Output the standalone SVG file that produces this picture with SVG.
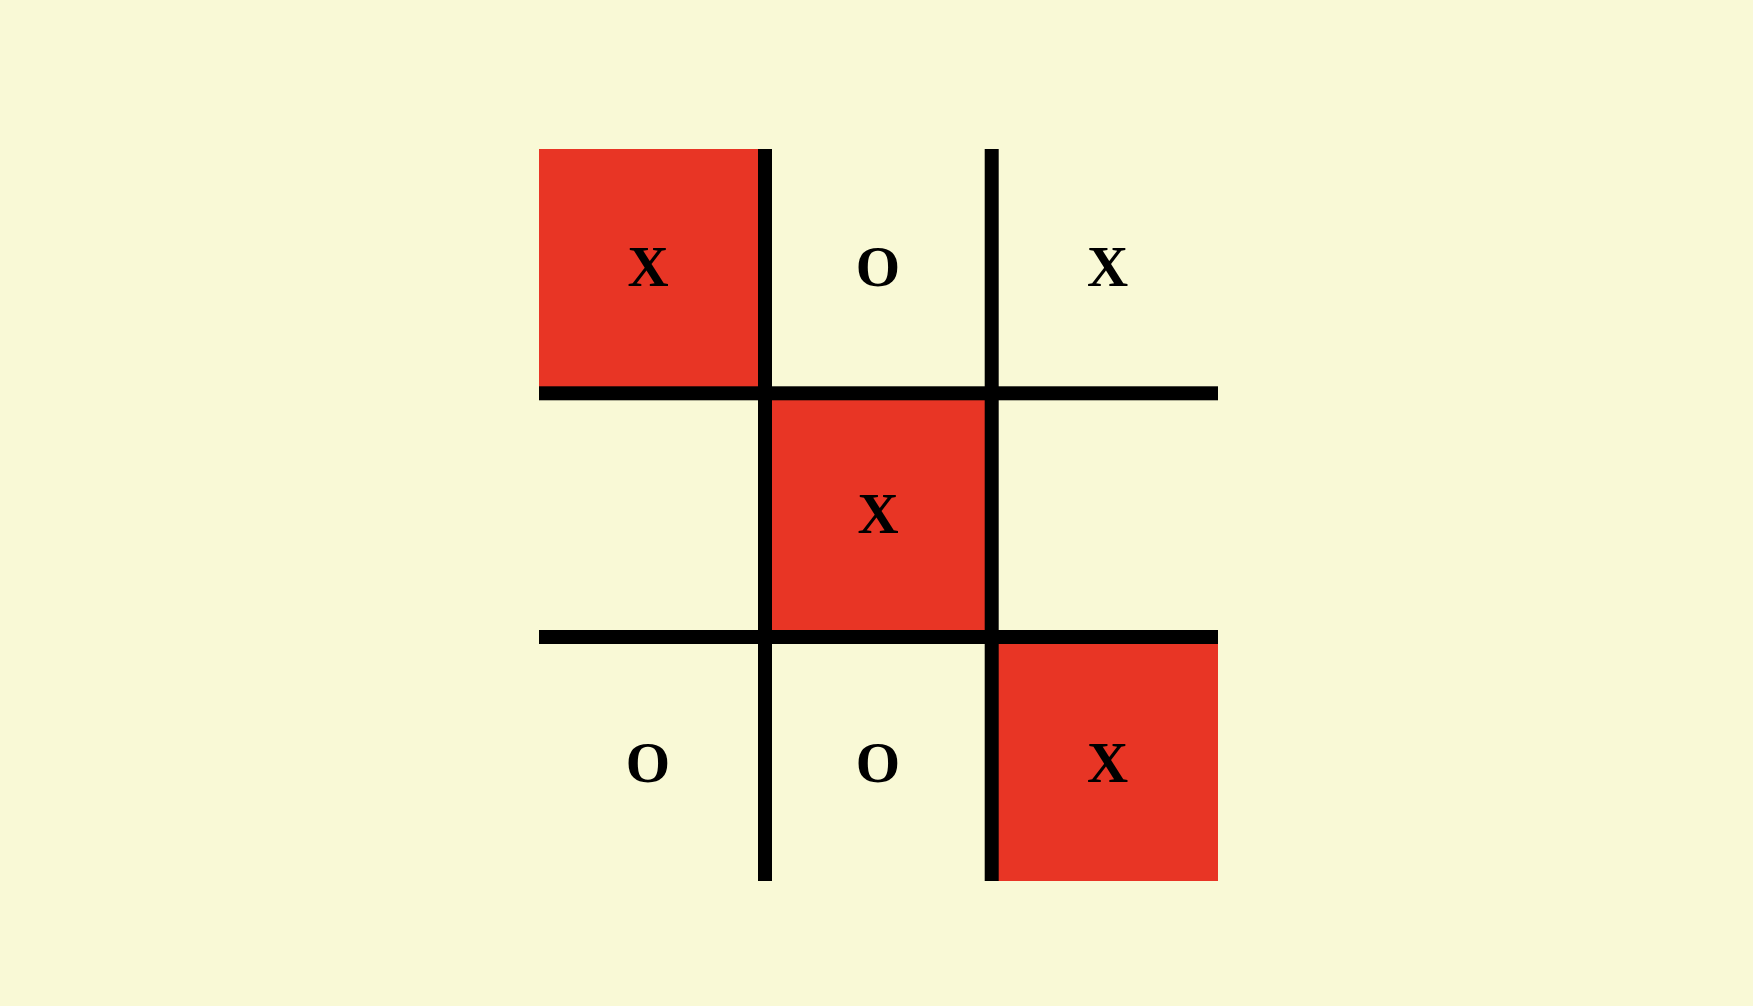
<svg xmlns="http://www.w3.org/2000/svg" width="1753" height="1006" viewBox="0 0 1753 1006">
<style>
.bg{fill:#F9F9D6}
.red{fill:#E83525}
.line{fill:#000}
.mark{font-family:"Liberation Serif","Times New Roman",serif;font-weight:bold;font-size:57px;fill:#000;text-anchor:middle}
</style>
<rect class="bg" x="0" y="0" width="1753" height="1006"/>
<g id="cell-1-1"><rect class="red" x="539" y="149" width="220" height="238"/><text class="mark" x="648" y="286">X</text></g>
<g id="cell-1-2"><text class="mark" x="878" y="286">O</text></g>
<g id="cell-1-3"><text class="mark" x="1107.5" y="286">X</text></g>
<g id="cell-2-2"><rect class="red" x="771" y="399" width="215" height="232"/><text class="mark" x="878" y="533">X</text></g>
<g id="cell-3-1"><text class="mark" x="648" y="782">O</text></g>
<g id="cell-3-2"><text class="mark" x="878" y="782">O</text></g>
<g id="cell-3-3"><rect class="red" x="997" y="643" width="221" height="238"/><text class="mark" x="1107.5" y="782">X</text></g>
<g id="grid-lines">
<rect class="line" x="758" y="149" width="14" height="732"/>
<rect class="line" x="984.7" y="149" width="14" height="732"/>
<rect class="line" x="539" y="386.3" width="679" height="14"/>
<rect class="line" x="539" y="630" width="679" height="14"/>
</g>
</svg>
